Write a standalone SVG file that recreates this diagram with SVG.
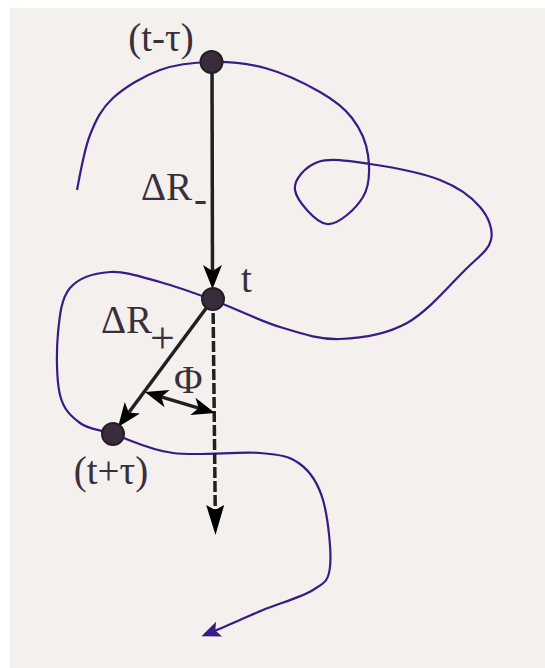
<svg xmlns="http://www.w3.org/2000/svg" width="545" height="668" viewBox="0 0 545 668">
<style>
.lbl{font-family:"Liberation Serif","Times New Roman",serif;font-size:39px;fill:#3a2f3b}
.dot{fill:#3a2c3c;stroke:#231f20;stroke-width:2}
.vec{stroke:#231f20;stroke-width:3.5;fill:none}
.traj{stroke:#3c1a86;stroke-width:2.2;fill:none}
</style>
<defs>
<marker id="ah" viewBox="-16 -11 28 22" refX="0" refY="0" markerWidth="28" markerHeight="22" markerUnits="userSpaceOnUse" orient="auto">
<path d="M10,0 L-14,-9.5 L-8,0 L-14,9.5 Z" fill="#000"/>
</marker>
<marker id="ahLong" viewBox="-22 -10 34 20" refX="0" refY="0" markerWidth="34" markerHeight="20" markerUnits="userSpaceOnUse" orient="auto">
<path d="M10,0 L-20,-9 L-15,0 L-20,9 Z" fill="#000"/>
</marker>
<marker id="ahPhi" viewBox="-16 -11 28 22" refX="0" refY="0" markerWidth="28" markerHeight="22" markerUnits="userSpaceOnUse" orient="auto-start-reverse">
<path d="M10,0 L-13,-9 L-7,0 L-13,9 Z" fill="#000"/>
</marker>
<marker id="ahTraj" viewBox="-14 -10 26 20" refX="0" refY="0" markerWidth="26" markerHeight="20" markerUnits="userSpaceOnUse" orient="auto">
<path d="M6,0 L-13,-8 L-9,0 L-13,8 Z" fill="#3c1a86"/>
</marker>
</defs>
<rect x="10" y="8" width="535" height="660" fill="#f3f0ed"/>
<g id="connectors">
<path id="trajectory" class="traj" marker-end="url(#ahTraj)" d="M77,190 C79,180 84,150 90,135 S101.3,108.8 113,98 S143.5,76 160,70 S194.5,62.3 212,62 S247,63 265,68 S305.5,83.7 320,92 S344,107.5 352,118 S366.2,141.8 368,155 S369.8,185.5 363,197 S338.3,225.2 327,224 S296.5,200.3 295,190 S305.5,166.3 318,162 S349.7,161 370,164 S421.7,172.8 440,180 S471.5,197 480,207 S493.5,229.5 491,240 S479,256.2 465,270 S427.8,311.5 407,323 S361.2,338.3 340,339 S301.2,333.5 280,327 S233,307.5 213,300 S177.2,286.7 160,282 S125,271 110,272 S78.7,277.8 70,288 S59.7,315.2 58,333 S56.3,380 60,395 S71.2,416.5 80,423 S97.5,429 113,434 S148.5,449.8 173,453 S238.8,451.2 260,453 S289.5,456.2 300,464 S318,482.8 323,500 S331.7,552 330,567 S324.2,582.8 313,590 S279.3,603.2 263,610 S223,627.5 207,634"/>
<line id="dR-minus" class="vec" x1="212" y1="62" x2="212.5" y2="279" marker-end="url(#ah)"/>
<line id="dR-plus" class="vec" x1="213" y1="299" x2="124" y2="419" marker-end="url(#ah)"/>
<line id="extension" class="vec" x1="213" y1="299" x2="215.4" y2="525" stroke-dasharray="11,3" marker-end="url(#ahLong)"/>
<line id="phi-arc" class="vec" x1="154.6" y1="394.9" x2="205.4" y2="410.1" marker-start="url(#ahPhi)" marker-end="url(#ahPhi)"/>
</g>
<g id="node-t-minus-tau">
<circle class="dot" cx="211.5" cy="62" r="11"/>
<text class="lbl" x="161" y="51" text-anchor="middle">(t-τ)</text>
</g>
<g id="node-t">
<circle class="dot" cx="213" cy="299" r="11"/>
<text class="lbl" x="241" y="292">t</text>
</g>
<g id="node-t-plus-tau">
<circle class="dot" cx="113" cy="434" r="11"/>
<text class="lbl" x="111" y="484" text-anchor="middle">(t+τ)</text>
</g>
<g id="labels">
<text class="lbl" x="141" y="200">ΔR</text>
<text class="lbl" x="194" y="212">-</text>
<text class="lbl" x="101" y="333">ΔR</text>
<text class="lbl" x="150" y="353" style="font-size:44px">+</text>
<text class="lbl" x="174" y="393">Φ</text>
</g>
</svg>
